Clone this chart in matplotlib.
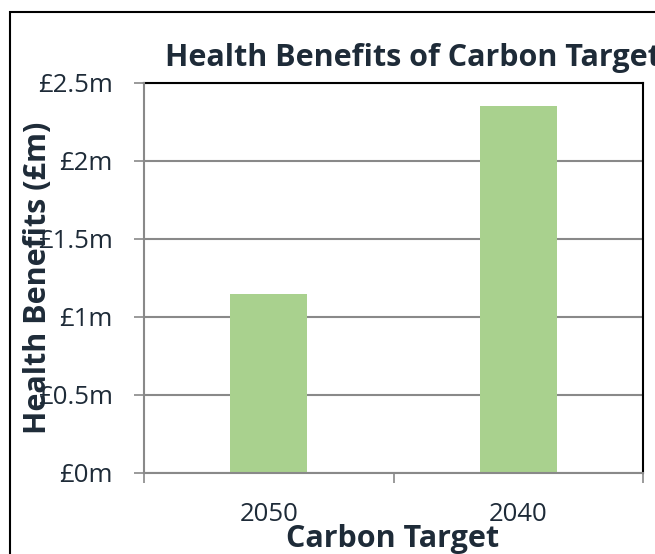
import matplotlib
matplotlib.use("Agg")
import matplotlib.pyplot as plt
from matplotlib.patches import Rectangle
from matplotlib.ticker import FixedLocator, FuncFormatter

# data
categories = ["2050", "2040"]
benefits_m = [1.15, 2.35]
y_ticks = [0, 0.5, 1, 1.5, 2, 2.5]

text_color = "#1e2b38"
bar_color = "#a9d18e"
grid_color = "#898989"

plt.rcParams["font.family"] = ["Open Sans", "DejaVu Sans"]

W, H = 655, 554
fig = plt.figure(figsize=(W / 100, H / 100), dpi=100)

# outer chart border (runs off right/bottom like the source)
fig.patches.append(Rectangle((10 / W, -0.2), 1.5, 1 - 12 / H + 0.2,
                             transform=fig.transFigure, fill=False,
                             edgecolor="black", linewidth=1.5, clip_on=False))

ax = fig.add_axes([144 / W, 1 - 473 / H, (643 - 144) / W, (473 - 83) / H])

x = list(range(len(categories)))
ax.bar(x, benefits_m, width=0.31, color=bar_color, zorder=3)

ax.set_xlim(-0.5, len(categories) - 0.5)
ax.set_ylim(0, 2.5)

ax.set_yticks(y_ticks)
ax.yaxis.set_major_formatter(FuncFormatter(lambda v, p: "£%gm" % v))
ax.set_xticks(x)
ax.set_xticklabels(categories)
ax.xaxis.set_minor_locator(FixedLocator([-0.5, 0.5, 1.5]))

ax.grid(axis="y", color=grid_color, linewidth=1.5, zorder=1)
ax.tick_params(axis="y", which="major", length=7.5, width=1.2, color=grid_color,
               pad=15, labelsize=18.5, labelcolor=text_color)
ax.tick_params(axis="x", which="major", length=0, pad=21, labelsize=18.5,
               labelcolor=text_color)
ax.tick_params(axis="x", which="minor", length=7.5, width=1.2, color=grid_color)

for side in ["top", "right"]:
    ax.spines[side].set_color("black")
    ax.spines[side].set_linewidth(1.5)
for side in ["left", "bottom"]:
    ax.spines[side].set_color(grid_color)
    ax.spines[side].set_linewidth(1.5)
    ax.spines[side].set_zorder(4)

fig.text(165 / W, 1 - 66 / H, "Health Benefits of Carbon Target", ha="left",
         va="baseline", fontsize=22, fontweight="bold", color=text_color)
fig.text(393 / W, 1 - 547 / H, "Carbon Target", ha="center", va="baseline",
         fontsize=22, fontweight="bold", color=text_color)
fig.text(38 / W, 1 - 278 / H, "Health Benefits (£m)", ha="center", va="center",
         rotation=90, fontsize=22, fontweight="bold", color=text_color)

fig.savefig("out.png", dpi=100)
